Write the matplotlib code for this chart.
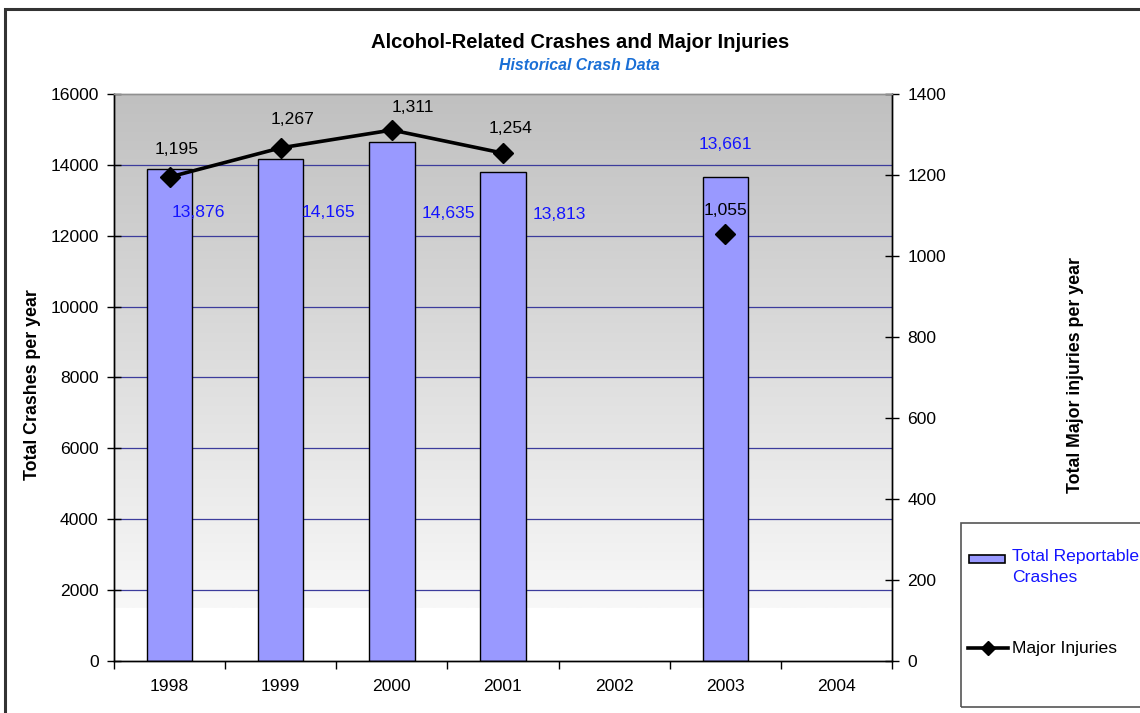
import numpy as np
import matplotlib
matplotlib.use("Agg")
import matplotlib.pyplot as plt
from matplotlib.patches import Rectangle
from matplotlib.lines import Line2D
from matplotlib.colors import LinearSegmentedColormap

plt.rcParams['font.family'] = ['Liberation Sans', 'DejaVu Sans']

# ---- data ----
years = ["1998", "1999", "2000", "2001", "2002", "2003", "2004"]
crashes = [13876, 14165, 14635, 13813, np.nan, 13661, np.nan]
injuries = [1195, 1267, 1311, 1254, np.nan, 1055, np.nan]
left_ticks = [0, 2000, 4000, 6000, 8000, 10000, 12000, 14000, 16000]
right_ticks = [0, 200, 400, 600, 800, 1000, 1200, 1400]
series_names = ["Total Reportable\nCrashes", "Major Injuries"]

# label placement (pixel offsets from the bar top / marker)
crash_label_offsets = [(29, -43), (48, -53), (57, -71), (56, -43), None, (0, 32), None]
injury_label_offsets = [(7, 28), (12, 28), (21, 23), (8, 25), None, (0, 23), None]

BAR_COLOR = "#9999ff"
GRID_COLOR = "#3c3c9c"
LABEL_BLUE = "#1414ff"
FS = 12.6

W, H, DPI = 1140, 713, 100
fig = plt.figure(figsize=(W / DPI, H / DPI), dpi=DPI)
fig.patch.set_facecolor("white")

def px(x0, y0, x1, y1):
    return [x0 / W, 1 - y1 / H, (x1 - x0) / W, (y1 - y0) / H]

def fx(xp):
    return xp / W

def fy(yp):
    return 1 - yp / H

ax = fig.add_axes(px(114, 94, 892, 661))
ax2 = ax.twinx()

x = np.arange(len(years))
ax.set_xlim(-0.5, len(years) - 0.5)
ax.set_ylim(0, 16000)
ax2.set_ylim(0, 1400)

# gradient plot-area background: grey at the top fading to white
cmap = LinearSegmentedColormap.from_list("bg", ["#f8f8f8", "#c0c0c0"])
grad = np.linspace(0, 1, 256).reshape(-1, 1)
ax.imshow(grad, cmap=cmap, aspect="auto", origin="lower",
          extent=(-0.5, len(years) - 0.5, 1500, 16000), zorder=0)
ax.set_facecolor("white")

# horizontal gridlines
for t in left_ticks[1:-1]:
    ax.axhline(t, color=GRID_COLOR, lw=0.9, zorder=1)

ax.bar(x, crashes, width=0.41, color=BAR_COLOR, edgecolor="black",
       linewidth=1.0, zorder=2)

ax2.plot(x, injuries, color="black", lw=2.6, marker="D", markersize=10,
         zorder=3)

# value labels
for i, v in enumerate(crashes):
    if np.isnan(v):
        continue
    dx, dy = crash_label_offsets[i]
    ax.annotate(f"{v:,.0f}", (x[i], v), xytext=(dx, dy),
                textcoords="offset pixels", ha="center", va="center",
                color=LABEL_BLUE, fontsize=FS, zorder=4)
for i, v in enumerate(injuries):
    if np.isnan(v):
        continue
    dx, dy = injury_label_offsets[i]
    ax2.annotate(f"{v:,.0f}", (x[i], v), xytext=(dx, dy),
                 textcoords="offset pixels", ha="center", va="center",
                 color="black", fontsize=FS, zorder=4)

# axes styling
ax.set_xticks(x)
ax.set_xticklabels(years, fontsize=FS)
ax.set_xticks(np.arange(-0.5, len(years), 1.0), minor=True)
ax.tick_params(axis="x", which="major", length=0, pad=13)
ax.tick_params(axis="x", which="minor", direction="out", length=6, width=1,
               color="black")
ax.set_yticks(left_ticks)
ax.set_yticklabels([str(t) for t in left_ticks], fontsize=FS)
ax.tick_params(axis="y", direction="inout", length=10, width=1, pad=6)
ax2.set_yticks(right_ticks)
ax2.set_yticklabels([str(t) for t in right_ticks], fontsize=FS)
ax2.tick_params(axis="y", direction="inout", length=10, width=1, pad=6)

for a in (ax, ax2):
    a.spines["top"].set_color("#909090")
    a.spines["left"].set_color("black")
    a.spines["bottom"].set_color("black")
    a.spines["right"].set_color("black")
    for s in a.spines.values():
        s.set_linewidth(1.0)
    a.spines["top"].set_zorder(5)

# titles and axis labels
fig.text(fx(580), fy(43), "Alcohol-Related Crashes and Major Injuries",
         ha="center", va="center", fontsize=14.6, fontweight="bold")
fig.text(fx(579), fy(65), "Historical Crash Data", ha="center",
         va="center", fontsize=11.4, fontweight="bold", style="italic",
         color="#1a6fd6")
fig.text(fx(33), fy(385), "Total Crashes per year", rotation=90,
         ha="center", va="center", fontsize=12.8, fontweight="bold")
fig.text(fx(1075), fy(375), "Total Major injuries per year", rotation=90,
         ha="center", va="center", fontsize=12.8, fontweight="bold")

# outer chart border and legend box
fig.patches.append(Rectangle((fx(5), -0.1), 1.2, fy(9) + 0.1,
                             transform=fig.transFigure, fill=False,
                             edgecolor="#333333", linewidth=2.2))
fig.patches.append(Rectangle((fx(961), fy(707)), 0.3, (707 - 523) / H,
                             transform=fig.transFigure, fill=False,
                             edgecolor="#555555", linewidth=1.2))

# legend entries
fig.patches.append(Rectangle((fx(969), fy(563)), (1005 - 969) / W, 8 / H,
                             transform=fig.transFigure, facecolor=BAR_COLOR,
                             edgecolor="black", linewidth=1.2))
fig.text(fx(1012), fy(549), series_names[0], ha="left", va="top",
         fontsize=FS, color=LABEL_BLUE, linespacing=1.5)
fig.add_artist(Line2D([fx(968), fx(1008)], [fy(648), fy(648)],
                      transform=fig.transFigure, color="black", lw=2.6))
fig.add_artist(Line2D([fx(988)], [fy(648)], transform=fig.transFigure,
                      color="black", marker="D", markersize=7, lw=0))
fig.text(fx(1012), fy(648), series_names[1], ha="left", va="center",
         fontsize=FS, color="black")

fig.savefig("out.png", dpi=DPI)
